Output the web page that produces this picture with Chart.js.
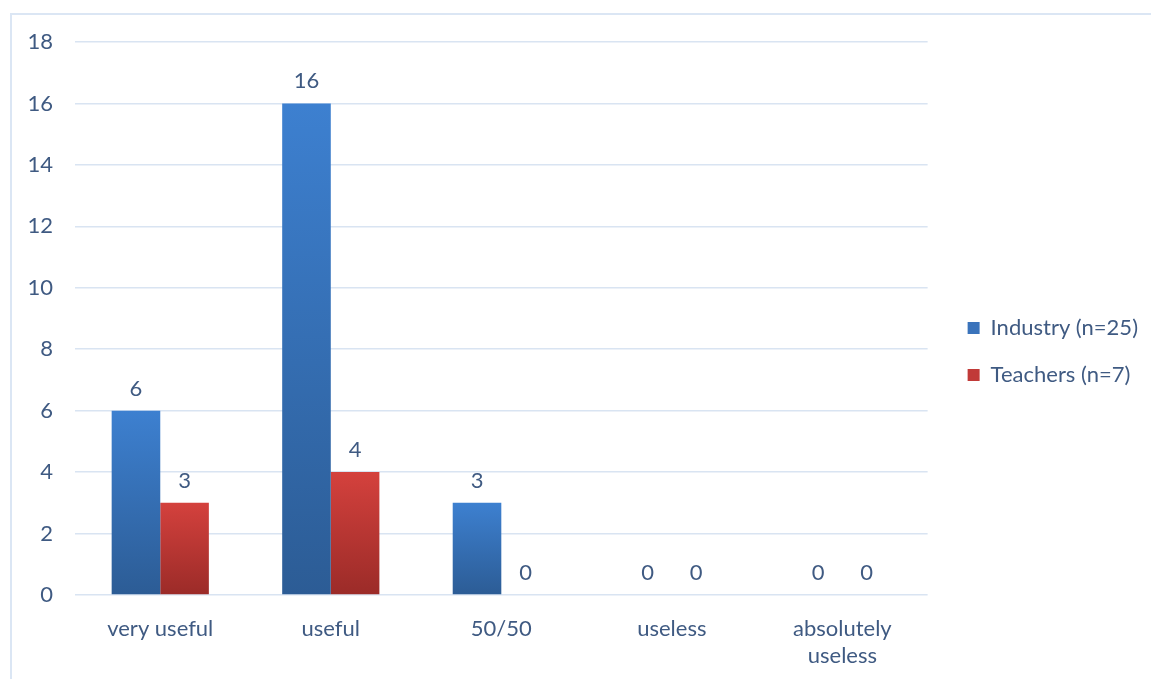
<!DOCTYPE html>
<html>
<head>
<meta charset="utf-8">
<script src="https://cdn.jsdelivr.net/npm/chart.js@4/dist/chart.umd.min.js"></script>
<style>
  html, body { margin: 0; padding: 0; background: #fff; overflow: hidden; }
  #frame { position: absolute; left: 10px; top: 13px; width: 1300px; height: 800px; border: 2px solid #dbe6f4; }
  #wrap { position: absolute; left: 0; top: 0; width: 1151px; height: 679px; }
</style>
</head>
<body>
<div id="frame"></div>
<div id="wrap"><canvas id="chart"></canvas></div>
<script>
// categories and values
const categories = ['very useful', 'useful', '50/50', 'useless', ['absolutely', 'useless']];
const industry = [6, 16, 3, 0, 0];
const teachers = [3, 4, 0, 0, 0];
const seriesNames = ['Industry (n=25)', 'Teachers (n=7)'];
const yMax = 18;
const yStep = 2;

const textColor = '#3f5a82';
const gridColor = '#d9e4f2';
const fontFamily = 'Lato, "Open Sans", sans-serif';
const fontSize = 22;
const legendGap = 15;
const legendLift = 9;

// each bar gets its own top-to-bottom gradient
function barGradient(top, bottom) {
    return function(context) {
        const chart = context.chart;
        const y = chart.scales.y;
        if (!chart.chartArea || !y || context.type !== 'data') return bottom;
        const y0 = y.getPixelForValue(0);
        const y1 = y.getPixelForValue(context.raw);
        if (y0 === y1) return bottom;
        const g = chart.ctx.createLinearGradient(0, y1, 0, y0);
        g.addColorStop(0, top);
        g.addColorStop(1, bottom);
        return g;
    };
}

// value labels above each bar
const valueLabels = {
    id: 'valueLabels',
    afterDatasetsDraw(chart) {
        const ctx = chart.ctx;
        ctx.save();
        ctx.font = fontSize + 'px ' + fontFamily;
        ctx.fillStyle = textColor;
        ctx.textAlign = 'center';
        ctx.textBaseline = 'alphabetic';
        chart.data.datasets.forEach((ds, i) => {
            chart.getDatasetMeta(i).data.forEach((el, j) => {
                ctx.fillText(String(ds.data[j]), el.x, el.y - 15);
            });
        });
        ctx.restore();
    }
};

// leave some extra room between the plot and the legend
const legendSpacer = {
    id: 'legendSpacer',
    afterInit(chart) {
        const lg = chart.legend;
        if (!lg) return;
        const fit = lg.fit.bind(lg);
        lg.fit = function() {
            fit();
            this.width += legendGap;
        };
        const draw = lg.draw.bind(lg);
        lg.draw = function(area) {
            const left = this.left, top = this.top, bottom = this.bottom;
            this.left += legendGap;
            this.top -= legendLift;
            this.bottom -= legendLift;
            draw(area);
            this.left = left;
            this.top = top;
            this.bottom = bottom;
        };
    }
};

const legendColors = ['#3a73bb', '#c13a38'];

new Chart(document.getElementById('chart'), {
    type: 'bar',
    data: {
        labels: categories,
        datasets: [
            {
                label: seriesNames[0],
                data: industry,
                backgroundColor: barGradient('#3d80d0', '#2c5c95'),
                categoryPercentage: 0.57,
                barPercentage: 1.0
            },
            {
                label: seriesNames[1],
                data: teachers,
                backgroundColor: barGradient('#d4413d', '#9b2b28'),
                categoryPercentage: 0.57,
                barPercentage: 1.0
            }
        ]
    },
    options: {
        responsive: true,
        maintainAspectRatio: false,
        animation: false,
        layout: {
            padding: { top: 42, right: 3, bottom: 0, left: 0 }
        },
        scales: {
            x: {
                grid: { display: false },
                border: { display: false },
                ticks: {
                    color: textColor,
                    font: { family: fontFamily, size: fontSize },
                    padding: 13,
                    maxRotation: 0,
                    autoSkip: false
                },
                afterFit(scale) { scale.height = 84; }
            },
            y: {
                min: 0,
                max: yMax,
                grid: { color: gridColor, lineWidth: 1.5, drawTicks: false },
                border: { display: false },
                ticks: {
                    stepSize: yStep,
                    color: textColor,
                    font: { family: fontFamily, size: fontSize },
                    padding: 22
                },
                afterFit(scale) { scale.width = 75; }
            }
        },
        plugins: {
            legend: {
                position: 'right',
                labels: {
                    color: textColor,
                    font: { family: fontFamily, size: fontSize },
                    boxWidth: 12,
                    boxHeight: 12,
                    padding: 25,
                    generateLabels(chart) {
                        return chart.data.datasets.map((ds, i) => ({
                            text: ds.label,
                            fillStyle: legendColors[i],
                            strokeStyle: legendColors[i],
                            lineWidth: 0,
                            fontColor: textColor,
                            hidden: false,
                            datasetIndex: i
                        }));
                    }
                }
            },
            tooltip: { enabled: false }
        }
    },
    plugins: [valueLabels, legendSpacer]
});
</script>
</body>
</html>
